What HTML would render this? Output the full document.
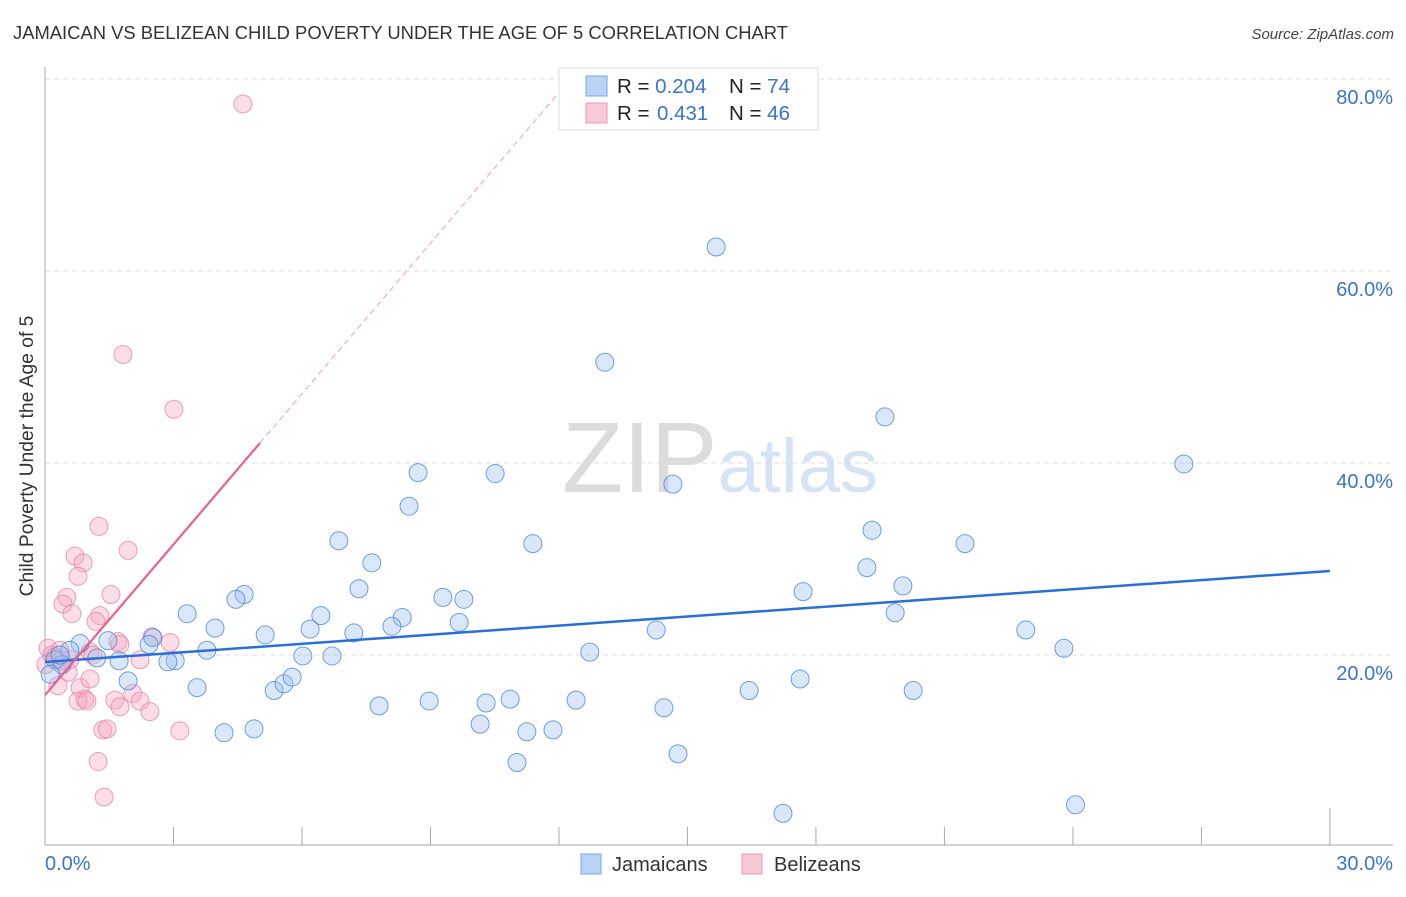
<!DOCTYPE html>
<html><head><meta charset="utf-8"><style>
body{margin:0;background:#fff;font-family:"Liberation Sans",sans-serif}
svg text{font-family:"Liberation Sans",sans-serif}
</style></head><body>
<svg id="chart" width="1406" height="892" xmlns="http://www.w3.org/2000/svg">
<text x="13" y="39" font-size="18.4" fill="#333">JAMAICAN VS BELIZEAN CHILD POVERTY UNDER THE AGE OF 5 CORRELATION CHART</text>
<text x="1394" y="39" font-size="15" fill="#444" text-anchor="end" font-style="italic">Source: ZipAtlas.com</text>
<text x="720" y="492" font-size="100" fill="#e4e4e4" text-anchor="middle" font-family="Liberation Serif"><tspan fill="#dcdcdc">ZIP</tspan><tspan fill="#d5e3f5" font-family="Liberation Sans" font-size="76">atlas</tspan></text>
<g id="grid"></g>
<g id="axes"></g>
<g id="marks"></g>
<g id="trends"></g>
<text transform="translate(33,456) rotate(-90)" font-size="19.3" fill="#333" text-anchor="middle">Child Poverty Under the Age of 5</text>
<g>
<rect x="559" y="68" width="259" height="62" fill="#fff" stroke="#ddd"/>
<rect x="586" y="76" width="21" height="20" fill="#b9d3f5" stroke="#7aa7e6"/>
<rect x="586" y="103" width="21" height="20" fill="#fac9d7" stroke="#ef9ab4"/>
<text x="617" y="93" font-size="20.5" fill="#222">R = <tspan fill="#3a73d0">0.204</tspan><tspan x="729">N = </tspan><tspan fill="#3a73d0">74</tspan></text>
<text x="617" y="120" font-size="20.5" fill="#222">R = <tspan fill="#3a73d0" x="657">0.431</tspan><tspan x="729">N = </tspan><tspan fill="#3a73d0">46</tspan></text>
</g>
<g>
<rect x="581" y="854" width="20" height="20" fill="#b9d3f5" stroke="#7aa7e6"/>
<text x="612" y="871" font-size="20" fill="#333">Jamaicans</text>
<rect x="742" y="854" width="20" height="20" fill="#fac9d7" stroke="#ef9ab4"/>
<text x="774" y="871" font-size="20" fill="#333">Belizeans</text>
</g>
</svg>
<script>
const jamX=[15.67,13.07,19.61,26.59,8.71,10.51,14.66,8.50,19.31,6.86,11.39,21.48,7.63,19.19,7.33,17.70,20.03,4.65,4.46,9.29,9.78,3.32,6.44,8.34,9.67,19.85,3.97,6.19,7.21,8.10,14.27,22.90,5.14,2.52,2.43,0.82,1.47,0.58,1.21,1.73,3.04,2.87,3.78,12.72,23.79,6.02,6.70,0.23,0.40,1.94,3.55,5.35,5.58,5.77,16.44,17.63,20.27,7.80,8.97,10.30,10.86,12.40,14.45,10.16,11.25,11.86,4.18,4.88,14.78,11.02,17.23,24.06,0.12,0.35];
const jamY=[62.5,50.5,44.8,39.9,39.0,38.9,37.8,35.5,33.0,31.9,31.6,31.6,29.6,29.1,26.9,26.6,27.2,26.3,25.8,26.0,25.8,24.3,24.1,23.9,23.4,24.4,22.8,22.7,22.3,23.0,22.6,22.6,22.1,21.8,21.1,21.2,21.5,20.5,19.7,19.4,19.4,19.3,20.5,20.3,20.7,19.9,19.9,19.5,19.0,17.3,16.6,16.3,17.0,17.7,16.3,17.5,16.3,14.7,15.2,15.0,15.4,15.3,14.5,12.8,12.0,12.2,11.9,12.3,9.7,8.8,3.5,4.4,18.0,20.0];
const belX=[4.62,1.82,3.01,1.26,1.94,0.70,0.89,0.77,1.54,0.51,0.42,0.63,1.28,1.19,0.07,0.16,0.28,0.02,0.35,0.58,1.05,1.12,1.70,1.75,2.50,2.92,2.22,0.54,0.30,0.82,1.05,0.93,0.77,0.98,1.63,2.05,2.22,1.75,2.45,1.35,1.45,3.15,1.24,1.38,0.23,0.40];
const belY=[77.4,51.3,45.6,33.4,30.9,30.3,29.6,28.2,26.3,26.0,25.3,24.3,24.1,23.5,20.7,20.0,19.5,19.0,20.5,19.5,20.3,20.0,21.4,21.1,21.9,21.3,19.5,18.2,16.8,16.6,17.5,15.4,15.2,15.2,15.3,16.0,15.2,14.6,14.1,12.2,12.3,12.1,8.9,5.2,19.8,19.4];
const yTicks=[20,40,60,80];
const yTickLabels=["20.0%","40.0%","60.0%","80.0%"];
const blueTrend=[19.27,28.75];
const pinkTrend=[15.83,5.23];
const NS="http://www.w3.org/2000/svg";
const xs=v=>45+v*42.83, ys=v=>847-v*9.6;
function mk(t,a,p){const e=document.createElementNS(NS,t);for(const k in a)e.setAttribute(k,a[k]);p.appendChild(e);return e;}
const grid=document.getElementById('grid'),axes=document.getElementById('axes'),marks=document.getElementById('marks'),trends=document.getElementById('trends');
yTicks.forEach((t,i)=>{
 const l=mk('line',{x1:45,x2:1393,y1:ys(t),y2:ys(t),stroke:'#ddd','stroke-dasharray':'5,4'},grid);
 
 
 const tx=mk('text',{x:1393,y:ys(t)+25,'font-size':20,fill:'#3a73d0','text-anchor':'end'},axes);
 
 
 tx.textContent=yTickLabels[i];
});
mk('line',{x1:45,x2:45,y1:67,y2:845,stroke:'#aaa'},axes);
mk('line',{x1:45,x2:1393,y1:845,y2:845,stroke:'#aaa'},axes);
for(let i=1;i<=10;i++){const x=xs(i*3);const t=mk('line',{x1:x,x2:x,y1:i==10?808:827,y2:845,stroke:'#aaa'},axes);
 
 }
const x0=mk('text',{x:45,y:870,'font-size':20,fill:'#3a73d0'},axes);x0.textContent='0.0%';


const x1=mk('text',{x:1393,y:870,'font-size':20,fill:'#3a73d0','text-anchor':'end'},axes);x1.textContent='30.0%';


belX.forEach((v,i)=>{const c=mk('circle',{cx:xs(v),cy:ys(belY[i]),r:9,fill:'rgba(246,170,196,0.4)',stroke:'rgba(232,120,160,0.7)','stroke-width':1},marks);
 
 });
jamX.forEach((v,i)=>{const c=mk('circle',{cx:xs(v),cy:ys(jamY[i]),r:9,fill:'rgba(160,196,240,0.4)',stroke:'rgba(70,130,210,0.75)','stroke-width':1},marks);
 
 });
const bl=mk('line',{x1:xs(0),y1:ys(blueTrend[0]),x2:xs(30),y2:ys(blueTrend[1]),stroke:'#2a6fd6','stroke-width':2.5},trends);


const px=5.02, pEnd=(80-pinkTrend[0])/pinkTrend[1];
const pl=mk('line',{x1:xs(0),y1:ys(pinkTrend[0]),x2:xs(px),y2:ys(pinkTrend[0]+pinkTrend[1]*px),stroke:'#e8608e','stroke-width':2.2},trends);


const pd=mk('line',{x1:xs(px),y1:ys(pinkTrend[0]+pinkTrend[1]*px),x2:xs(pEnd),y2:ys(80),stroke:'#eeb0c4','stroke-width':1.2,'stroke-dasharray':'6,4'},trends);


</script>
</body></html>
